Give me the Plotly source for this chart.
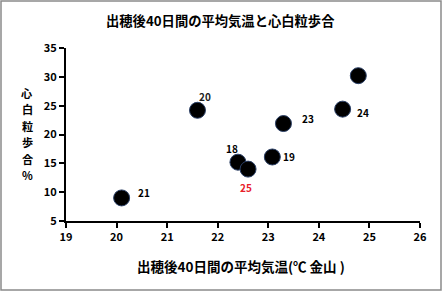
import plotly.graph_objects as go

temps = [20.1, 21.6, 22.4, 22.6, 23.08, 23.3, 24.47, 24.78]
rates = [9.0, 24.2, 15.2, 14.0, 16.1, 21.9, 24.4, 30.2]
years = ["21", "20", "18", "25", "19", "23", "24", ""]
label_colors = ["#000", "#222", "#000", "#e8202a", "#000", "#000", "#000", "#000"]
label_shift = [(22, 5), (8, 14), (-6, 14), (-2, -18), (17, 0), (25, 5), (20, -3), (0, 0)]

title = "出穂後40日間の平均気温と心白粒歩合"
xtitle = "出穂後40日間の平均気温(℃ 金山 )"
ytitle = "心白粒歩合%"

FONT = "Noto Sans CJK JP"
L, T, W, H = 66, 48, 354, 173

def px(x):
    return (x - L) / W

def py(y):
    return (T + H - y) / H

fig = go.Figure()
fig.add_trace(go.Scatter(
    x=temps, y=rates, mode="markers",
    marker=dict(size=16, color="#000000", line=dict(color="#2a3f66", width=1)),
    showlegend=False, hoverinfo="skip"))

ann = []
for x, y, t, c, (dx, dy) in zip(temps, rates, years, label_colors, label_shift):
    if t:
        ann.append(dict(x=x, y=y, text="<b>%s</b>" % t, showarrow=False, xshift=dx, yshift=dy,
                        xanchor="center", yanchor="middle",
                        font=dict(size=10, color=c, family=FONT)))

for i, ch in enumerate(ytitle):
    ann.append(dict(xref="paper", yref="paper", x=px(27), y=py(93 + i * 16.4),
                    text="<b>%s</b>" % ch, showarrow=False, borderpad=0,
                    xanchor="center", yanchor="middle",
                    font=dict(size=11.2, color="#000", family=FONT)))
ann.append(dict(xref="paper", yref="paper", x=px(241), y=py(266),
                text="<b>%s</b>" % xtitle, showarrow=False,
                xanchor="center", yanchor="middle",
                font=dict(size=13.5, color="#000", family=FONT)))
ann.append(dict(xref="paper", yref="paper", x=px(220), y=py(20),
                text="<b>%s</b>" % title, showarrow=False,
                xanchor="center", yanchor="middle",
                font=dict(size=13.3, color="#000", family=FONT)))

fig.update_layout(
    width=442, height=291,
    margin=dict(l=L, r=442 - L - W, t=T, b=291 - T - H),
    paper_bgcolor="white", plot_bgcolor="white",
    annotations=ann,
    shapes=[dict(type="rect", xref="paper", yref="paper",
                 x0=px(1), x1=px(441), y0=py(290), y1=py(1),
                 line=dict(color="#8a8a8a", width=1.5))],
    xaxis=dict(range=[19, 26], dtick=1, showgrid=False, zeroline=False,
               showline=True, linecolor="black", linewidth=2,
               ticks="outside", ticklen=5, tickwidth=2, tickcolor="black",
               tickfont=dict(size=11, color="#000", family=FONT, weight="bold")),
    yaxis=dict(range=[5, 35], dtick=5, showgrid=False, zeroline=False,
               showline=True, linecolor="black", linewidth=2,
               ticks="outside", ticklen=5, tickwidth=2, tickcolor="black",
               tickfont=dict(size=11, color="#000", family=FONT, weight="bold")),
)

fig.write_html("out.html")
